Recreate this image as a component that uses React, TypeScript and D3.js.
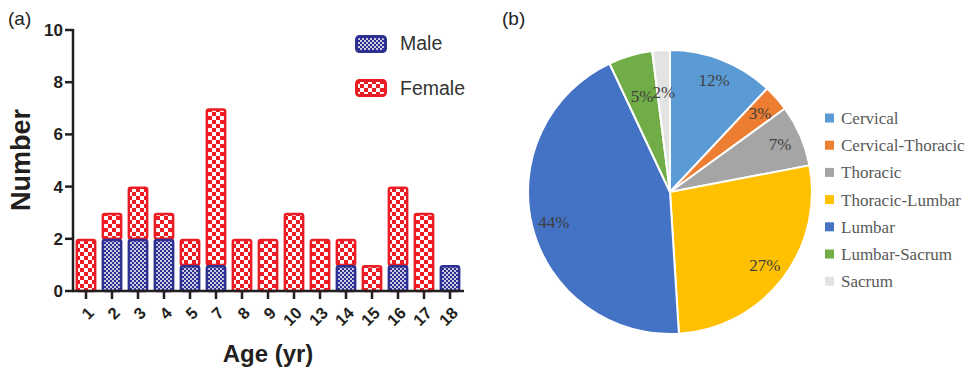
import React from "react";
import * as d3 from "d3";

// panel (a): cases per age
const ages = ["1", "2", "3", "4", "5", "7", "8", "9", "10", "13", "14", "15", "16", "17", "18"];
const male = [0, 2, 2, 2, 1, 1, 0, 0, 0, 0, 1, 0, 1, 0, 1];
const female = [2, 1, 2, 1, 1, 6, 2, 2, 3, 2, 1, 1, 3, 3, 0];
const yTicks = [0, 2, 4, 6, 8, 10];

// panel (b): location share
const regions = ["Cervical", "Cervical-Thoracic", "Thoracic", "Thoracic-Lumbar", "Lumbar", "Lumbar-Sacrum", "Sacrum"];
const shares = [12, 3, 7, 27, 44, 5, 2];
const regionColors = ["#5b9bd5", "#ed7d31", "#a5a5a5", "#ffc000", "#4472c4", "#70ad47", "#e3e3e3"];

const RED = "#ec1c24";
const BLUE = "#2e3192";
const INK = "#231f20";
const SANS = "'Liberation Sans', Arial, sans-serif";
const SERIF = "'Liberation Serif', 'Times New Roman', serif";

const BarPanel = () => {
  const x = d3.scaleBand().domain(ages).range([73, 463]).paddingInner(0.2).paddingOuter(0.1);
  const y = d3.scaleLinear().domain([0, 10]).range([291, 30]);
  const sw = 2.5;

  return (
    <g>
      <text x={8} y={25} fontFamily={SANS} fontSize={19} fill="#222">(a)</text>

      {ages.map((a, i) => {
        const x0 = x(a)! + sw / 2;
        const w = x.bandwidth() - sw;
        const m = male[i];
        const f = female[i];
        return (
          <g key={a}>
            {f > 0 && (
              <rect x={x0} y={y(m + f) + sw / 2} width={w} height={y(m) - y(m + f) - sw / 2}
                rx={2} fill="url(#femalePat)" stroke={RED} strokeWidth={sw} />
            )}
            {m > 0 && (
              <rect x={x0} y={y(m) + sw / 2} width={w} height={y(0) - y(m) - sw / 2}
                rx={2} fill="url(#malePat)" stroke={BLUE} strokeWidth={sw} />
            )}
          </g>
        );
      })}

      {/* y axis */}
      <line x1={73} x2={73} y1={y(10) - 1} y2={y(0) + 1} stroke={INK} strokeWidth={2.5} />
      {yTicks.map(t => (
        <g key={t}>
          <line x1={65} x2={73} y1={y(t)} y2={y(t)} stroke={INK} strokeWidth={2.5} />
          <text x={63} y={y(t)} dy="0.35em" textAnchor="end" fontFamily={SANS}
            fontWeight="bold" fontSize={17} fill={INK}>{t}</text>
        </g>
      ))}

      {/* x axis */}
      <line x1={72} x2={464} y1={y(0)} y2={y(0)} stroke={INK} strokeWidth={2.5} />
      {ages.map(a => {
        const cx = x(a)! + x.bandwidth() / 2;
        return (
          <g key={a}>
            <line x1={cx} x2={cx} y1={y(0)} y2={y(0) + 8} stroke={INK} strokeWidth={2.5} />
            <text transform={`translate(${cx + 9},${y(0) + 23}) rotate(-45)`} textAnchor="end"
              fontFamily={SANS} fontWeight="bold" fontSize={16.5} fill={INK}>{a}</text>
          </g>
        );
      })}

      <text transform="translate(30,160) rotate(-90)" textAnchor="middle" fontFamily={SANS}
        fontWeight="bold" fontSize={27} fill={INK}>Number</text>
      <text x={268} y={362} textAnchor="middle" fontFamily={SANS} fontWeight="bold"
        fontSize={24} fill={INK}>Age (yr)</text>

      {/* legend */}
      <rect x={356.5} y={36.5} width={29} height={15} rx={3} fill="url(#malePat)" stroke={BLUE} strokeWidth={3} />
      <text x={400} y={43} dy="0.35em" fontFamily={SANS} fontSize={19.5} fill="#333">Male</text>
      <rect x={356.5} y={80.5} width={29} height={15} rx={3} fill="url(#femalePat)" stroke={RED} strokeWidth={3} />
      <text x={400} y={88} dy="0.35em" fontFamily={SANS} fontSize={19.5} fill="#333">Female</text>
    </g>
  );
};

const PiePanel = () => {
  const cx = 670;
  const cy = 192;
  const r = 142;
  const pie = d3.pie<number>().value(d => d).sort(null);
  const arcs = pie(shares);
  const arc = d3.arc<d3.PieArcDatum<number>>().innerRadius(0).outerRadius(r);
  const labelArc = (d: d3.PieArcDatum<number>) => {
    const lr = d.index >= 5 ? 100 : 120;
    return d3.arc<d3.PieArcDatum<number>>().innerRadius(lr).outerRadius(lr).centroid(d);
  };

  return (
    <g>
      <text x={502} y={25} fontFamily={SANS} fontSize={19} fill="#222">(b)</text>
      <g transform={`translate(${cx},${cy})`}>
        {arcs.map((d, i) => (
          <path key={regions[i]} d={arc(d)!} fill={regionColors[i]} stroke="#fff" strokeWidth={2} />
        ))}
        {arcs.map((d, i) => {
          const [lx, ly] = labelArc(d);
          return (
            <text key={regions[i]} x={lx} y={ly} dy="0.35em" textAnchor="middle"
              fontFamily={SERIF} fontSize={17} fill="#404040">{shares[i]}%</text>
          );
        })}
      </g>

      {regions.map((name, i) => (
        <g key={name} transform={`translate(825,${118 + i * 27.2})`}>
          <rect x={0} y={-4.5} width={9} height={9} fill={regionColors[i]} />
          <text x={16} y={0} dy="0.35em" fontFamily={SERIF} fontSize={17} fill="#595959">{name}</text>
        </g>
      ))}
    </g>
  );
};

const App = () => {
  return (
    <svg width={975} height={369} style={{ position: "absolute", left: 0, top: 0, background: "#fff" }}>
      <defs>
        <pattern id="femalePat" patternUnits="userSpaceOnUse" width={8} height={8}>
          <rect width={8} height={8} fill={RED} />
          <rect x={0} y={0} width={4} height={4} fill="#fff" />
          <rect x={4} y={4} width={4} height={4} fill="#fff" />
        </pattern>
        <pattern id="malePat" patternUnits="userSpaceOnUse" width={4} height={4}>
          <rect width={4} height={4} fill={BLUE} />
          <rect x={0} y={0} width={2} height={2} fill="#fff" opacity={0.75} />
          <rect x={2} y={2} width={2} height={2} fill="#fff" opacity={0.75} />
        </pattern>
      </defs>
      <BarPanel />
      <PiePanel />
    </svg>
  );
};

export default App;
